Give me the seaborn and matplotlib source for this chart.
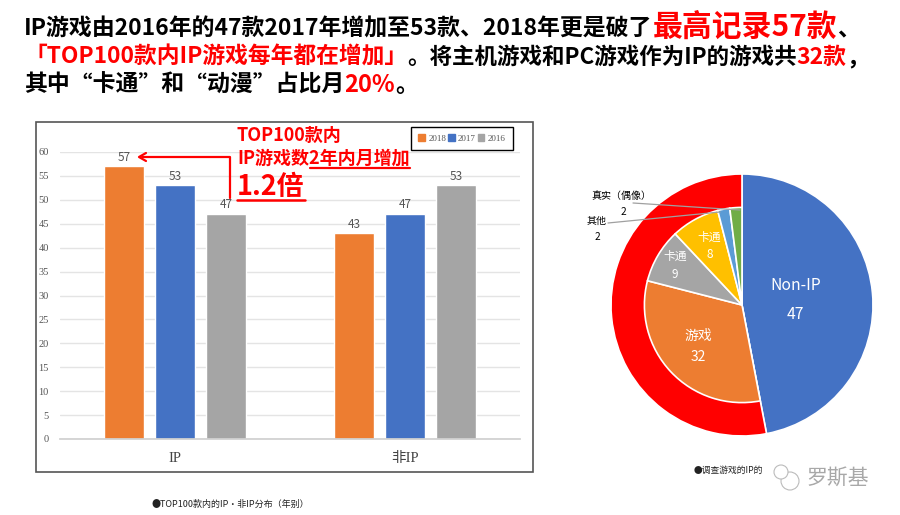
import matplotlib
matplotlib.use('Agg')
import matplotlib.pyplot as plt
import numpy as np
import pandas as pd
import seaborn as sns
from matplotlib.lines import Line2D
from matplotlib.patches import Rectangle, Ellipse

W, H = 900, 515

categories = ['IP', '非IP']
years = ['2018', '2017', '2016']
values_2018 = [57, 43]
values_2017 = [53, 47]
values_2016 = [47, 53]
year_colors = ['#ED7D31', '#4472C4', '#A5A5A5']

ring_labels = ['Non-IP\n47', '']
ring_values = [47, 53]
ring_colors = ['#4472C4', '#FF0000']
inner_labels = ['', '游戏\n32', '卡通\n9', '卡通\n8', '', '']
inner_values = [47, 32, 9, 8, 2, 2]
inner_colors = ['#4472C4', '#ED7D31', '#A5A5A5', '#FFC000', '#5B9BD5', '#70AD47']
inner_label_dist = [0, 0.62, 0.80, 0.69, 0, 0]

title_lines = [
    [('IP游戏由2016年的47款2017年增加至53款、2018年更是破了', 'black', 16.5), ('最高记录57款', 'red', 21.5), ('、', 'black', 16.5)],
    [('「TOP100款内IP游戏每年都在增加」', 'red', 16.4), ('。将主机游戏和PC游戏作为IP的游戏共', 'black', 16.2), ('32款', 'red', 16.5), ('，', 'black', 16.5)],
    [('其中“卡通”和“动漫”占比月', 'black', 16.5), ('20%', 'red', 17), ('。', 'black', 16.5)],
]

sns.set_theme(style='white')
plt.rcParams['font.family'] = ['Noto Sans CJK SC', 'DejaVu Sans']
plt.rcParams['axes.unicode_minus'] = False

fig = plt.figure(figsize=(W / 100, H / 100), dpi=100, facecolor='white')


def fx(x):
    return x / W


def fy(y):
    return 1 - y / H


def box(x0, y0, x1, y1):
    return [fx(x0), fy(y1), (x1 - x0) / W, (y1 - y0) / H]


def fig_line(xs, ys, color='red', lw=1.6, z=6):
    fig.add_artist(Line2D([fx(x) for x in xs], [fy(y) for y in ys], color=color, lw=lw, zorder=z))


def fig_text(x, y, s, **kw):
    kw.setdefault('va', 'center')
    kw.setdefault('zorder', 7)
    return fig.text(fx(x), fy(y), s, **kw)


# title runs, one after the other
renderer = fig.canvas.get_renderer()
for line, baseline, start in zip(title_lines, [36, 64, 92], [24, 24, 24]):
    x = start
    for s, color, size in line:
        t = fig_text(x, baseline, s, color=color, fontsize=size, fontweight='bold', va='baseline')
        x = t.get_window_extent(renderer).x1

# frame round the bar chart
fig.add_artist(Rectangle((fx(36), fy(472)), 497 / W, 350 / H, transform=fig.transFigure,
                         facecolor='white', edgecolor='#555555', lw=1.2, zorder=0))

# bar chart
df = pd.DataFrame({
    'category': categories * 3,
    'year': [y for y in years for _ in categories],
    'value': values_2018 + values_2017 + values_2016,
})
ax = fig.add_axes(box(60, 152, 520, 439))
ax.patch.set_alpha(0)
sns.barplot(data=df, x='category', y='value', hue='year', hue_order=years,
            palette=year_colors, width=0.665, gap=0.215, saturation=1, legend=False, ax=ax)
ax.set_ylim(0, 60)
ax.set_xlim(-0.5, 1.5)
ax.set_yticks(range(0, 61, 5))
ax.yaxis.grid(True, color='#E4E4E4', lw=1)
ax.set_axisbelow(True)
sns.despine(ax=ax, left=True, top=True, right=True)
ax.spines['bottom'].set_color('#D0D0D0')
ax.set_xlabel('')
ax.set_ylabel('')
ax.tick_params(axis='y', length=0, pad=8, labelsize=7.5, labelcolor='#555555')
ax.tick_params(axis='x', length=0, pad=9, labelsize=10.5, labelcolor='#444444')
for lab in ax.get_yticklabels() + ax.get_xticklabels():
    lab.set_family(['Liberation Serif', 'Noto Sans CJK SC'])
for c in ax.containers:
    ax.bar_label(c, padding=2, fontsize=8.5, color='#555555')

# legend
handles = [Rectangle((0, 0), 1, 1, color=c) for c in year_colors]
leg = fig.legend(handles, years, ncol=3, loc='center', bbox_to_anchor=(fx(462), fy(138.5)),
                 frameon=True, fancybox=False, edgecolor='black', framealpha=1,
                 handlelength=0.75, handleheight=0.75, handletextpad=0.35, columnspacing=0.2,
                 borderpad=0.8, prop={'family': ['Liberation Serif'], 'size': 6.5})
leg.get_frame().set_linewidth(1)
for t in leg.get_texts():
    t.set_color('#555555')

# callout on the bar chart
fig_text(237, 135, 'TOP100款内', color='red', fontsize=13, fontweight='bold')
fig_text(237, 158, 'IP游戏数2年内月增加', color='red', fontsize=13, fontweight='bold')
fig_text(237, 187, '1.2倍', color='red', fontsize=19.5, fontweight='bold')
fig_line([310, 410], [167.5, 167.5])
fig_line([237, 305], [200, 200], lw=1.8)
fig_line([229.5, 229.5, 142], [198, 157, 157])
fig_line([146, 139, 146], [153, 157, 161])

# pie chart
pie = fig.add_axes(box(611, 174, 873, 436))
pie.pie(ring_values, colors=ring_colors, labels=ring_labels, radius=1, startangle=90, counterclock=False,
        labeldistance=0.41, wedgeprops={'edgecolor': 'white', 'linewidth': 1.2},
        textprops={'color': 'white', 'fontsize': 11.3, 'ha': 'center', 'va': 'center', 'linespacing': 1.9})
inner, inner_texts = pie.pie(inner_values, colors=inner_colors, labels=inner_labels, radius=0.745,
                             startangle=90, counterclock=False, labeldistance=0.8,
                             wedgeprops={'edgecolor': 'white', 'linewidth': 1.2},
                             textprops={'color': 'white', 'fontsize': 8.5, 'ha': 'center', 'va': 'center',
                                        'linespacing': 1.5})
# Non-IP already comes from the outer ring at full radius
inner[0].set_visible(False)
inner_texts[1].set_fontsize(10)
inner_texts[1].set_linespacing(1.7)
for w, t, d in zip(inner, inner_texts, inner_label_dist):
    if t.get_text():
        mid = np.deg2rad((w.theta1 + w.theta2) / 2)
        t.set_position((0.745 * d * np.cos(mid), 0.745 * d * np.sin(mid)))
pie.set_xlim(-1, 1)
pie.set_ylim(-1, 1)

# outside labels with leader lines
fig_text(621, 196, '真实（偶像）', fontsize=7.2, color='black', ha='center')
fig_text(623, 212, '2', fontsize=7.2, color='black', ha='center')
fig_text(597, 221, '其他', fontsize=7.2, color='black', ha='center')
fig_text(597, 237, '2', fontsize=7.2, color='black', ha='center')
fig_line([633, 740], [203, 210], color='#A0A0A0', lw=0.9)
fig_line([608, 720], [223, 212], color='#A0A0A0', lw=0.9)

# captions
fig_text(151, 504, '●TOP100款内的IP・非IP分布（年别）', fontsize=6.5, color='#222222')
fig_text(694, 470, '●调查游戏的IP的', fontsize=6.3, color='#222222')

# watermark
fig.add_artist(Ellipse((fx(790), fy(481)), 18 / W, 18 / H, transform=fig.transFigure,
                       facecolor='none', edgecolor='#BBBBBB', lw=0.8, zorder=8))
fig.add_artist(Ellipse((fx(781), fy(472)), 14 / W, 14 / H, transform=fig.transFigure,
                       facecolor='white', edgecolor='#BBBBBB', lw=0.8, zorder=8))
fig_text(838, 478, '罗斯基', fontsize=15, color='#A8A8A8', ha='center')

fig.savefig('out.png', dpi=100)
